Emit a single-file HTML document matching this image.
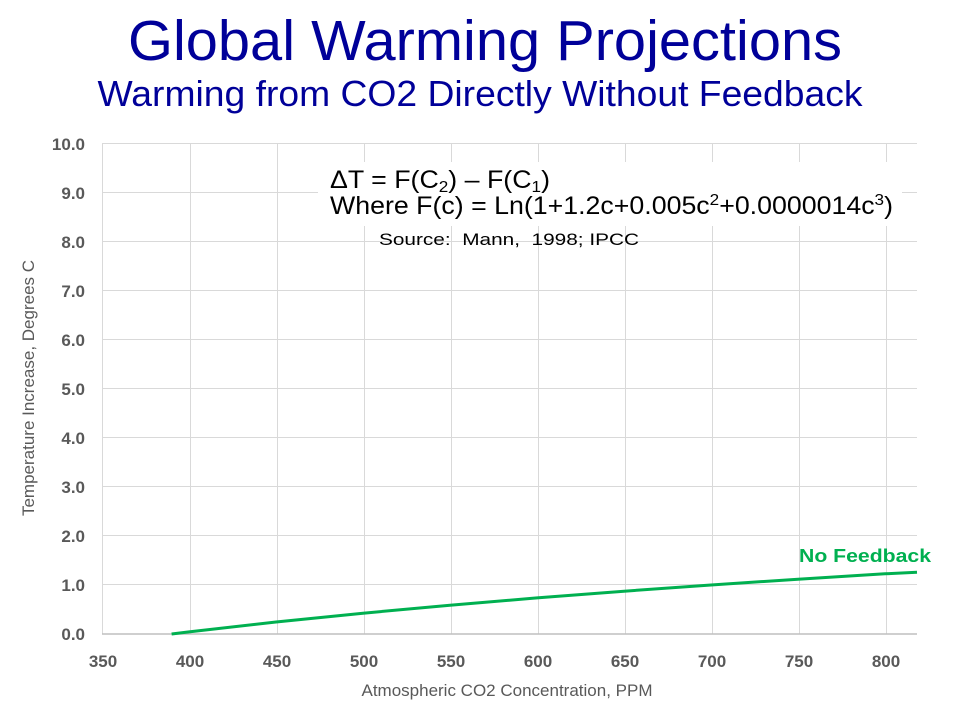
<!DOCTYPE html>
<html><head><meta charset="utf-8"><style>
html,body{margin:0;padding:0;background:#fff;}
svg{display:block;font-family:"Liberation Sans",sans-serif;}
</style></head><body>
<svg width="960" height="720" viewBox="0 0 960 720">
<text x="485" y="60" text-anchor="middle" font-size="57" fill="#000099" textLength="714" lengthAdjust="spacingAndGlyphs">Global Warming Projections</text>
<text x="480" y="106" text-anchor="middle" font-size="36" fill="#000099" textLength="765" lengthAdjust="spacingAndGlyphs">Warming from CO2 Directly Without Feedback</text>
<g stroke="#d9d9d9" stroke-width="1">
<line x1="102" y1="143.5" x2="917" y2="143.5"/><line x1="102" y1="192.5" x2="917" y2="192.5"/>
<line x1="102" y1="241.5" x2="917" y2="241.5"/><line x1="102" y1="290.5" x2="917" y2="290.5"/>
<line x1="102" y1="339.5" x2="917" y2="339.5"/><line x1="102" y1="388.5" x2="917" y2="388.5"/>
<line x1="102" y1="437.5" x2="917" y2="437.5"/><line x1="102" y1="486.5" x2="917" y2="486.5"/>
<line x1="102" y1="535.5" x2="917" y2="535.5"/><line x1="102" y1="584.5" x2="917" y2="584.5"/>
<line x1="102.5" y1="143" x2="102.5" y2="634"/><line x1="190.5" y1="143" x2="190.5" y2="634"/>
<line x1="277.5" y1="143" x2="277.5" y2="634"/><line x1="364.5" y1="143" x2="364.5" y2="634"/>
<line x1="451.5" y1="143" x2="451.5" y2="634"/><line x1="538.5" y1="143" x2="538.5" y2="634"/>
<line x1="625.5" y1="143" x2="625.5" y2="634"/><line x1="712.5" y1="143" x2="712.5" y2="634"/>
<line x1="799.5" y1="143" x2="799.5" y2="634"/><line x1="886.5" y1="143" x2="886.5" y2="634"/>
</g>
<line x1="102" y1="634" x2="917" y2="634" stroke="#bfbfbf" stroke-width="1.5"/>
<g font-size="17" font-weight="bold" fill="#595959" text-anchor="end">
<text x="85" y="150">10.0</text><text x="85" y="199">9.0</text><text x="85" y="248">8.0</text>
<text x="85" y="297">7.0</text><text x="85" y="346">6.0</text><text x="85" y="395">5.0</text>
<text x="85" y="444">4.0</text><text x="85" y="493">3.0</text><text x="85" y="542">2.0</text>
<text x="85" y="591">1.0</text><text x="85" y="640">0.0</text>
</g>
<g font-size="17" font-weight="bold" fill="#595959" text-anchor="middle">
<text x="103" y="667">350</text><text x="190" y="667">400</text><text x="277" y="667">450</text>
<text x="364" y="667">500</text><text x="451" y="667">550</text><text x="538" y="667">600</text>
<text x="625" y="667">650</text><text x="712" y="667">700</text><text x="799" y="667">750</text>
<text x="886" y="667">800</text>
</g>
<text x="507" y="696" text-anchor="middle" font-size="17" fill="#595959">Atmospheric CO2 Concentration, PPM</text>
<text transform="translate(34,388) rotate(-90)" text-anchor="middle" font-size="17" fill="#595959">Temperature Increase, Degrees C</text>
<rect x="318" y="162" width="584" height="64" fill="#fff"/>
<text x="330" y="188" font-size="25" fill="#000" textLength="220" lengthAdjust="spacingAndGlyphs">ΔT = F(C<tspan font-size="16" dy="4">2</tspan><tspan dy="-4">) – F(C</tspan><tspan font-size="16" dy="4">1</tspan><tspan dy="-4">)</tspan></text>
<text x="330" y="214" font-size="25" fill="#000" textLength="563" lengthAdjust="spacingAndGlyphs">Where F(c) = Ln(1+1.2c+0.005c<tspan font-size="16" dy="-9">2</tspan><tspan dy="9">+0.0000014c</tspan><tspan font-size="16" dy="-9">3</tspan><tspan dy="9">)</tspan></text>
<text x="379" y="245" font-size="17" fill="#000" xml:space="preserve" textLength="260" lengthAdjust="spacingAndGlyphs">Source:  Mann,  1998; IPCC</text>
<polyline fill="none" stroke="#00b050" stroke-width="3" points="171.6,634 189,631.9 276,622 363,613.2 450,605.2 537,597.9 624,591.2 711,585 798,579.2 885,573.8 917,572.3" />
<text x="931" y="562" text-anchor="end" font-size="18" font-weight="bold" fill="#00b050" textLength="132" lengthAdjust="spacingAndGlyphs">No Feedback</text>
</svg>
</body></html>
